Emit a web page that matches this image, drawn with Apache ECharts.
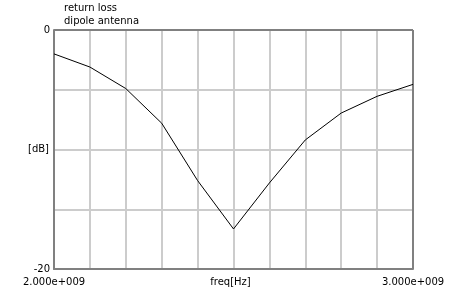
<!DOCTYPE html>
<html>
<head>
<meta charset="utf-8">
<script src="https://cdn.jsdelivr.net/npm/echarts@6/dist/echarts.min.js"></script>
<style>
html,body{margin:0;padding:0;background:#fff;}
#c{width:450px;height:300px;}
</style>
</head>
<body>
<div id="c"></div>
<script>
// Data
var freqs = [2.0e9, 2.1e9, 2.2e9, 2.3e9, 2.4e9, 2.5e9, 2.6e9, 2.7e9, 2.8e9, 2.9e9, 3.0e9];
var returnLoss = [-2.0, -3.1, -4.9, -7.8, -12.6, -16.65, -12.8, -9.2, -6.95, -5.55, -4.55];
var titleLines = ['return loss', 'dipole antenna'];
var xLabels = {min: '2.000e+009', max: '3.000e+009'};
var xName = 'freq[Hz]';
var yName = '[dB]';
var yMin = -20, yMax = 0;

var font = 'DejaVu Sans';
var chart = echarts.init(document.getElementById('c'), null, {renderer: 'canvas'});
var pts = freqs.map(function (f, i) { return [f, returnLoss[i]]; });

chart.setOption({
  animation: false,
  backgroundColor: '#ffffff',
  title: {
    text: titleLines.join('\n'),
    left: 59, top: -3,
    textStyle: {fontFamily: font, fontSize: 10, fontWeight: 'normal', color: '#000', lineHeight: 13}
  },
  grid: {left: 54, top: 30, right: 37, bottom: 31, show: false, outerBoundsMode: 'none', containLabel: false},
  xAxis: {
    type: 'value', min: freqs[0], max: freqs[freqs.length - 1], interval: 1e8,
    name: xName, nameLocation: 'middle', nameGap: 8, nameMoveOverlap: false,
    nameTextStyle: {fontFamily: font, fontSize: 10, color: '#000', verticalAlign: 'top', padding: [0, 6, 0, 0]},
    axisLine: {show: true, onZero: false, lineStyle: {color: '#808080', width: 2}},
    axisTick: {show: false},
    splitLine: {show: true, lineStyle: {color: '#cccccc', width: 2}},
    axisLabel: {
      show: true, margin: 8, fontFamily: font, fontSize: 10, color: '#000',
      showMinLabel: true, showMaxLabel: true,
      formatter: function (v) {
        if (Math.abs(v - freqs[0]) < 1) return xLabels.min;
        if (Math.abs(v - freqs[freqs.length - 1]) < 1) return xLabels.max;
        return '';
      }
    }
  },
  yAxis: {
    type: 'value', min: yMin, max: yMax, interval: 5,
    name: yName, nameLocation: 'middle', nameGap: 5, nameRotate: 0, nameMoveOverlap: false,
    nameTextStyle: {fontFamily: font, fontSize: 10, color: '#000', align: 'right', verticalAlign: 'middle', padding: [3, 0, 0, 0]},
    axisLine: {show: true, onZero: false, lineStyle: {color: '#808080', width: 2}},
    axisTick: {show: false},
    splitLine: {show: true, lineStyle: {color: '#cccccc', width: 2}},
    axisLabel: {
      show: true, margin: 4, fontFamily: font, fontSize: 10, color: '#000',
      showMinLabel: true, showMaxLabel: true, padding: [4, 0, 0, 0],
      formatter: function (v) {
        if (v === yMin || v === yMax) return String(v);
        return '';
      }
    }
  },
  series: [
    {
      type: 'line', data: pts, symbol: 'none', smooth: false,
      lineStyle: {color: '#000', width: 1}, z: 5
    },
    {
      // frame: top and right border lines
      type: 'line', data: [], silent: true,
      markLine: {
        silent: true, symbol: 'none', label: {show: false},
        lineStyle: {color: '#808080', width: 2, type: 'solid'},
        data: [{yAxis: yMax}, {xAxis: freqs[freqs.length - 1]}]
      }
    }
  ]
});
</script>
</body>
</html>
